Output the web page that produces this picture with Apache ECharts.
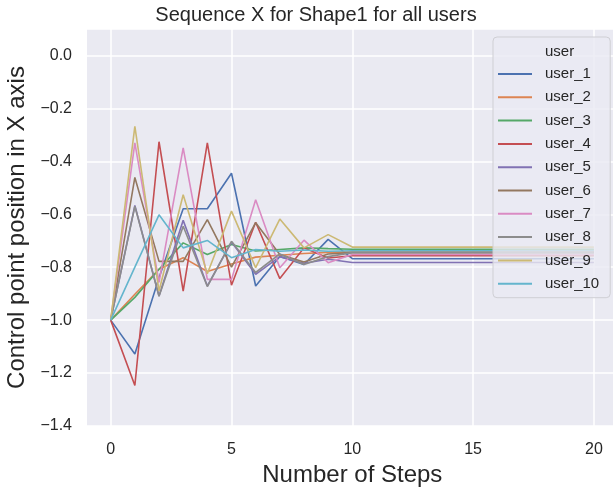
<!DOCTYPE html>
<html>
<head>
<meta charset="utf-8">
<script src="https://cdn.jsdelivr.net/npm/echarts@6/dist/echarts.min.js"></script>
<style>html,body{margin:0;padding:0;background:#fff}#c{width:613px;height:491px}</style>
</head>
<body>
<div id="c"></div>
<script>
const steps = [0,1,2,3,4,5,6,7,8,9,10,11,12,13,14,15,16,17,18,19,20];
const userNames = ['user_1','user_2','user_3','user_4','user_5','user_6','user_7','user_8','user_9','user_10'];
const user_1  = [-1.0,-1.128,-0.84,-0.579,-0.579,-0.445,-0.871,-0.76,-0.79,-0.695,-0.768,-0.768,-0.768,-0.768,-0.768,-0.768,-0.768,-0.768,-0.768,-0.768,-0.768];
const user_2  = [-1.0,-0.902,-0.808,-0.764,-0.816,-0.788,-0.762,-0.755,-0.748,-0.744,-0.742,-0.742,-0.742,-0.742,-0.742,-0.742,-0.742,-0.742,-0.742,-0.742,-0.742];
const user_3  = [-1.0,-0.914,-0.808,-0.708,-0.752,-0.714,-0.739,-0.733,-0.727,-0.73,-0.732,-0.732,-0.732,-0.732,-0.732,-0.732,-0.732,-0.732,-0.732,-0.732,-0.732];
const user_4  = [-1.0,-1.247,-0.326,-0.89,-0.33,-0.868,-0.63,-0.843,-0.727,-0.765,-0.757,-0.757,-0.757,-0.757,-0.757,-0.757,-0.757,-0.757,-0.757,-0.757,-0.757];
const user_5  = [-1.0,-0.567,-0.909,-0.623,-0.871,-0.705,-0.827,-0.76,-0.785,-0.77,-0.782,-0.782,-0.782,-0.782,-0.782,-0.782,-0.782,-0.782,-0.782,-0.782,-0.782];
const user_6  = [-1.0,-0.461,-0.778,-0.778,-0.62,-0.80,-0.632,-0.752,-0.78,-0.75,-0.745,-0.745,-0.745,-0.745,-0.745,-0.745,-0.745,-0.745,-0.745,-0.745,-0.745];
const user_7  = [-1.0,-0.330,-0.857,-0.349,-0.846,-0.846,-0.545,-0.802,-0.698,-0.783,-0.752,-0.752,-0.752,-0.752,-0.752,-0.752,-0.752,-0.752,-0.752,-0.752,-0.752];
const user_8  = [-1.0,-0.570,-0.91,-0.645,-0.873,-0.702,-0.82,-0.75,-0.79,-0.76,-0.745,-0.745,-0.745,-0.745,-0.745,-0.745,-0.745,-0.745,-0.745,-0.745,-0.745];
const user_9  = [-1.0,-0.268,-0.89,-0.526,-0.825,-0.588,-0.802,-0.618,-0.727,-0.677,-0.724,-0.724,-0.724,-0.724,-0.724,-0.724,-0.724,-0.724,-0.724,-0.724,-0.724];
const user_10 = [-1.0,-0.80,-0.602,-0.727,-0.699,-0.764,-0.733,-0.74,-0.735,-0.74,-0.738,-0.738,-0.738,-0.738,-0.738,-0.738,-0.738,-0.738,-0.738,-0.738,-0.738];
const xTicks = [0,5,10,15,20];
const yTicks = [-1.4,-1.2,-1.0,-0.8,-0.6,-0.4,-0.2,0.0];

const allValues = [user_1,user_2,user_3,user_4,user_5,user_6,user_7,user_8,user_9,user_10];
const colors = ['#4C72B0','#DD8452','#55A868','#C44E52','#8172B3','#937860','#DA8BC3','#8C8C8C','#CCB974','#64B5CD'];
const FONT = 'Liberation Sans, Arial, sans-serif';

const chart = echarts.init(document.getElementById('c'), null, {renderer:'canvas'});
const fmt = v => {
  const r = Math.round(v*10)/10;
  return (r < 0 ? '\u2212' : '') + Math.abs(r).toFixed(1);
};
const series = allValues.map((vals, i) => ({
  name: userNames[i],
  type: 'line',
  xAxisIndex: 1,
  yAxisIndex: 1,
  symbol: 'none',
  showSymbol: false,
  color: colors[i],
  lineStyle: {width: 1.6, color: colors[i]},
  data: steps.map((s, k) => [s, vals[k]])
}));

chart.setOption({
  animation: false,
  backgroundColor: '#ffffff',
  color: colors,
  title: {
    text: 'Sequence X for Shape1 for all users',
    left: 311, top: 0, textAlign: 'center',
    textStyle: {fontFamily: FONT, fontSize: 20, fontWeight: 'normal', color: '#262626'}
  },
  grid: [
    {left: 87, top: 29, right: 0, height: 397, show: true, backgroundColor: '#EAEAF2', borderWidth: 0, containLabel: false, outerBoundsMode: 'none'},
    {left: 110.7, top: 29, width: 483.2, height: 397, show: false, containLabel: false, outerBoundsMode: 'none'}
  ],
  xAxis: [
    {gridIndex: 0, type: 'value', min: 0, max: 1, show: false},
    {gridIndex: 1, type: 'value', min: 0, max: 20, interval: 5,
     axisLine: {show: false}, axisTick: {show: false},
     splitLine: {show: true, lineStyle: {color: '#ffffff', width: 1.5}},
     axisLabel: {fontFamily: FONT, fontSize: 16, color: '#262626', margin: 16, formatter: v => String(v)},
     name: 'Number of Steps', nameLocation: 'middle', nameGap: 37,
     nameTextStyle: {fontFamily: FONT, fontSize: 24, color: '#262626'}
    }
  ],
  yAxis: [
    {gridIndex: 0, type: 'value', min: -1.4, max: 0.1, interval: 0.2,
     axisLine: {show: false}, axisTick: {show: false},
     splitLine: {show: true, lineStyle: {color: '#ffffff', width: 1.5}},
     axisLabel: {fontFamily: FONT, fontSize: 16, color: '#262626', margin: 15, showMaxLabel: false, formatter: fmt},
     name: 'Control point position in X axis', nameLocation: 'middle', nameGap: 57,
     nameTextStyle: {fontFamily: FONT, fontSize: 24, color: '#262626'}
    },
    {gridIndex: 1, type: 'value', min: -1.4, max: 0.1, show: false}
  ],
  legend: {
    orient: 'vertical', left: 493, top: 37,
    data: userNames,
    padding: [28, 11, 5, 4],
    itemWidth: 34, itemHeight: 14, itemGap: 5.3,
    backgroundColor: 'rgba(234,234,242,0.8)',
    borderColor: '#cfcfd4', borderWidth: 1, borderRadius: 4,
    textStyle: {fontFamily: FONT, fontSize: 15, color: '#262626', lineHeight: 18, padding: [0,0,0,8]},
    itemStyle: {opacity: 0},
    lineStyle: {width: 2}
  },
  graphic: [{
    type: 'text', z: 100, left: 545, top: 44,
    style: {text: 'user', fontFamily: FONT, fontSize: 15, fill: '#262626'}
  }],
  series: series
});
</script>
</body>
</html>
